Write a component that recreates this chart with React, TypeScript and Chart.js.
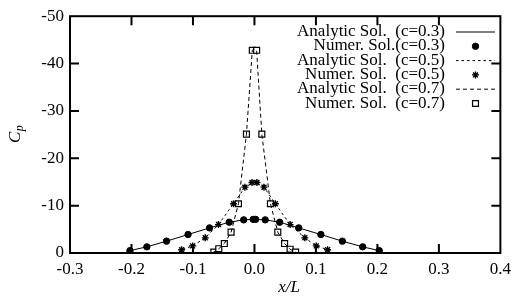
import React, { useEffect, useRef } from "react";
import { Chart, registerables } from "chart.js";
import { drawPoint } from "chart.js/helpers";

Chart.register(...registerables);

// ---- data ----
const numX03 = [-0.2025, -0.175, -0.143, -0.108, -0.073, -0.041, -0.0175, -0.002, 0.002, 0.0175, 0.041, 0.072, 0.108, 0.143, 0.176, 0.203];
const numY03 = [-0.5, -1.3, -2.5, -3.9, -5.3, -6.5, -7.0, -7.1, -7.1, -7.0, -6.5, -5.3, -3.9, -2.5, -1.3, -0.5];
const anaX03 = [-0.207, -0.2025, -0.175, -0.143, -0.108, -0.073, -0.041, -0.0175, 0.0, 0.0175, 0.041, 0.072, 0.108, 0.143, 0.176, 0.203, 0.207];
const anaY03 = [0.0, -0.5, -1.3, -2.5, -3.9, -5.3, -6.5, -7.0, -7.1, -7.0, -6.5, -5.3, -3.9, -2.5, -1.3, -0.5, 0.0];

const numX05 = [-0.1185, -0.1005, -0.08, -0.0585, -0.034, -0.0155, -0.004, 0.004, 0.0155, 0.034, 0.058, 0.082, 0.1005, 0.119];
const numY05 = [-0.7, -1.5, -3.2, -6.0, -10.4, -13.9, -14.9, -14.9, -13.9, -10.4, -6.0, -3.2, -1.5, -0.7];
const anaX05 = [-0.123, -0.1185, -0.1005, -0.08, -0.0585, -0.034, -0.0155, 0.0, 0.0155, 0.034, 0.058, 0.082, 0.1005, 0.119, 0.123];
const anaY05 = [0.0, -0.7, -1.5, -3.2, -6.0, -10.4, -13.9, -15.0, -13.9, -10.4, -6.0, -3.2, -1.5, -0.7, 0.0];

const numX07 = [-0.066, -0.058, -0.049, -0.038, -0.026, -0.013, -0.0035, 0.0035, 0.012, 0.026, 0.038, 0.049, 0.058, 0.067];
const numY07 = [-0.2, -0.9, -2.0, -4.4, -10.4, -25.1, -42.8, -42.8, -25.1, -10.4, -4.4, -2.0, -0.8, -0.2];
const anaX07 = [-0.068, -0.066, -0.058, -0.049, -0.038, -0.026, -0.013, -0.0035, 0.0, 0.0035, 0.012, 0.026, 0.038, 0.049, 0.058, 0.067, 0.069];
const anaY07 = [0.0, -0.2, -0.9, -2.0, -4.4, -10.4, -25.1, -42.8, -43.0, -42.8, -25.1, -10.4, -4.4, -2.0, -0.8, -0.2, 0.0];

const seriesLabels = [
  "Analytic Sol.  (c=0.3)",
  "Numer. Sol.(c=0.3)",
  "Analytic Sol.  (c=0.5)",
  "Numer. Sol.  (c=0.5)",
  "Analytic Sol.  (c=0.7)",
  "Numer. Sol.  (c=0.7)",
];

const xTitle = "x/L";
const yTitleMain = "C";
const yTitleSub = "p";

const X_MIN = -0.3, X_MAX = 0.4, X_STEP = 0.1;
const Y_MIN = -50, Y_MAX = 0, Y_STEP = 10;

const pts = (xs: number[], ys: number[]) => xs.map((x, i) => ({ x, y: ys[i] }));

const FONT = "Liberation Serif";

const framePlugin = {
  id: "frameAndLegend",
  afterDraw(chart: any) {
    const { ctx, chartArea } = chart;
    const { left, right, top, bottom } = chartArea;
    const xs = chart.scales.x;
    const ys = chart.scales.y;
    ctx.save();
    ctx.strokeStyle = "#000";
    ctx.lineWidth = 2;
    ctx.strokeRect(left, top, right - left, bottom - top);
    const L = 9;
    ctx.beginPath();
    xs.ticks.forEach((t: any) => {
      const px = xs.getPixelForValue(t.value);
      if (px <= left + 1 || px >= right - 1) return;
      ctx.moveTo(px, bottom);
      ctx.lineTo(px, bottom - L);
      ctx.moveTo(px, top);
      ctx.lineTo(px, top + L);
    });
    ys.ticks.forEach((t: any) => {
      const py = ys.getPixelForValue(t.value);
      if (py <= top + 1 || py >= bottom - 1) return;
      ctx.moveTo(left, py);
      ctx.lineTo(left + L, py);
      ctx.moveTo(right, py);
      ctx.lineTo(right - L, py);
    });
    ctx.stroke();

    // legend
    ctx.fillStyle = "#000";
    ctx.font = `17px "${FONT}"`;
    ctx.textAlign = "right";
    ctx.textBaseline = "alphabetic";
    const textRight = 445;
    const sx0 = 456, sx1 = 495;
    chart.data.datasets.forEach((ds: any, i: number) => {
      const base = 36 + 14.3 * i;
      ctx.fillText(ds.label, textRight, base);
      const sy = base - 4;
      if (ds.showLine) {
        ctx.save();
        ctx.lineWidth = ds.borderWidth;
        ctx.setLineDash(ds.borderDash || []);
        ctx.beginPath();
        ctx.moveTo(sx0, sy);
        ctx.lineTo(sx1, sy);
        ctx.stroke();
        ctx.restore();
      } else {
        ctx.save();
        ctx.lineWidth = ds.pointBorderWidth;
        ctx.strokeStyle = ds.pointBorderColor;
        ctx.fillStyle = ds.pointBackgroundColor;
        drawPoint(ctx, { pointStyle: ds.pointStyle, radius: ds.pointRadius, rotation: 0, borderWidth: ds.pointBorderWidth } as any, (sx0 + sx1) / 2, sy);
        ctx.restore();
      }
    });

    // axis titles
    ctx.textAlign = "left";
    ctx.font = `italic 17px "${FONT}"`;
    const w = ctx.measureText(xTitle).width;
    ctx.fillText(xTitle, 289 - w / 2, 292);

    ctx.save();
    ctx.translate(19.5, 143);
    ctx.rotate(-Math.PI / 2);
    ctx.font = `italic 17px "${FONT}"`;
    ctx.fillText(yTitleMain, 0, 0);
    const cw = ctx.measureText(yTitleMain).width;
    ctx.font = `italic 12px "${FONT}"`;
    ctx.fillText(yTitleSub, cw + 0.5, 3);
    ctx.restore();

    ctx.restore();
  },
};

export default function App() {
  const ref = useRef<HTMLCanvasElement | null>(null);
  useEffect(() => {
    document.body.style.margin = "0";
    const canvas = ref.current;
    if (!canvas) return;
    const lineDs = (label: string, data: any[], dash: number[]) => ({
      label,
      data,
      showLine: true,
      borderColor: "#000",
      borderWidth: 1,
      borderDash: dash,
      pointRadius: 0,
      pointHoverRadius: 0,
      fill: false,
      tension: 0,
    });
    const ptDs = (label: string, data: any[], style: string, r: number, bg: string, bw: number) => ({
      label,
      data,
      showLine: false,
      pointStyle: style,
      pointRadius: r,
      pointHoverRadius: r,
      pointBackgroundColor: bg,
      pointBorderColor: "#000",
      pointBorderWidth: bw,
      borderColor: "#000",
      backgroundColor: bg,
    });
    const chart = new Chart(canvas, {
      type: "scatter",
      data: {
        datasets: [
          lineDs(seriesLabels[0], pts(anaX03, anaY03), []),
          ptDs(seriesLabels[1], pts(numX03, numY03), "circle", 3.2, "#000", 1),
          lineDs(seriesLabels[2], pts(anaX05, anaY05), [2.5, 3]),
          ptDs(seriesLabels[3], pts(numX05, numY05), "star", 3.5, "#000", 1.4),
          lineDs(seriesLabels[4], pts(anaX07, anaY07), [4, 3]),
          ptDs(seriesLabels[5], pts(numX07, numY07), "rect", 4.2, "#fff", 1.2),
        ] as any,
      },
      options: {
        animation: false,
        responsive: true,
        maintainAspectRatio: false,
        layout: { padding: { left: 0, top: 15, right: 8, bottom: 0 } },
        plugins: { legend: { display: false }, tooltip: { enabled: false } },
        scales: {
          x: {
            type: "linear",
            min: X_MIN,
            max: X_MAX,
            grid: { display: false, drawTicks: false },
            border: { display: false },
            ticks: {
              stepSize: X_STEP,
              color: "#000",
              padding: 6,
              font: { family: FONT, size: 17 },
              callback: (v: any) => (Math.abs(Number(v)) < 1e-9 ? "0.0" : Number(v).toFixed(1)),
            },
            afterFit: (s: any) => {
              s.height = 43;
            },
          },
          y: {
            type: "linear",
            min: Y_MIN,
            max: Y_MAX,
            reverse: true,
            grid: { display: false, drawTicks: false },
            border: { display: false },
            ticks: {
              stepSize: Y_STEP,
              color: "#000",
              padding: 6,
              font: { family: FONT, size: 17 },
              callback: (v: any) => String(Math.round(Number(v))),
            },
            afterFit: (s: any) => {
              s.width = 70;
            },
          },
        },
      },
      plugins: [framePlugin],
    });
    return () => chart.destroy();
  }, []);
  return (
    <div style={{ position: "fixed", left: 0, top: 0, width: 517, height: 296, background: "#fff" }}>
      <canvas ref={ref} />
    </div>
  );
}
